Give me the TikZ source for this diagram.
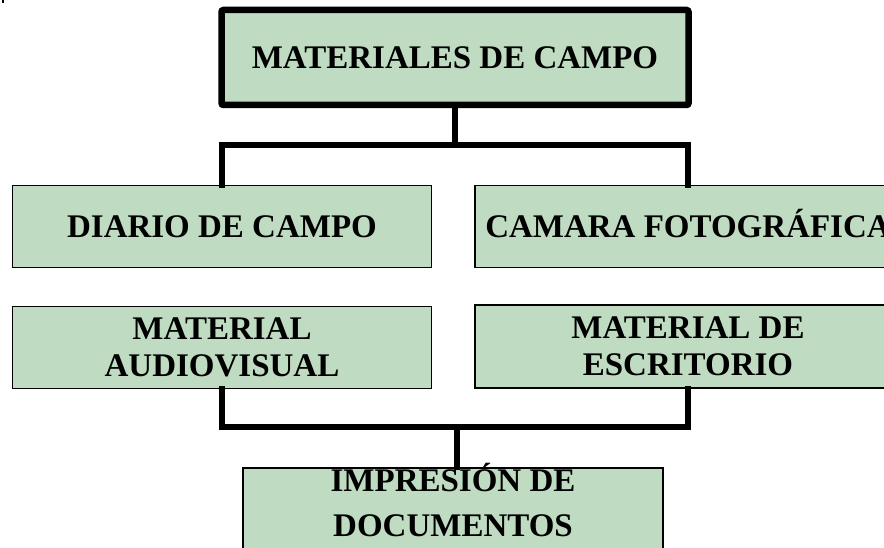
\documentclass[tikz,border=0pt]{standalone}
\usepackage{fontspec}
\setmainfont{Liberation Serif}
\definecolor{boxgreen}{RGB}{191,220,194}
\begin{document}
\begin{tikzpicture}[x=1pt,y=-1pt,
  every node/.style={font=\bfseries\fontsize{33}{37}\selectfont, inner sep=0pt, align=center},
  thinbox/.style={draw=black, line width=1.8pt, fill=boxgreen, minimum width=419pt, minimum height=82pt},
  topbox/.style={draw=black, line width=6.5pt, fill=boxgreen, rounded corners=2pt, minimum width=467pt, minimum height=95pt},
  conn/.style={draw=black, line width=6pt, line cap=rect, line join=miter},
  one/.style={text height=22pt, text depth=0pt}]
\clip (0,0) rectangle (884,548);
\fill[white] (0,0) rectangle (884,548);
\fill[black] (2,0.5) rectangle (4,3);
\coordinate (j1) at (457,145);
\coordinate (j2) at (457,427);
% boxes
\node[topbox, one] (top) at (455,57.5) {MATERIALES DE CAMPO};
\node[thinbox, one] (dia) at (222,226.5) {DIARIO DE CAMPO};
\node[thinbox, one, minimum width=426pt] (cam) at (688,226.5) {CAMARA FOTOGRÁFICA};
\node[thinbox] (aud) at (222,347.5) {MATERIAL\\AUDIOVISUAL};
\node[thinbox, minimum width=426pt, minimum height=83pt] (esc) at (688,346.5) {MATERIAL DE\\ESCRITORIO};
\node[thinbox, minimum width=420pt, minimum height=120pt, anchor=north] (imp) at (453,467) {};
\node[font=\bfseries\fontsize{33}{45}\selectfont] (impt) at (453,500.5) {IMPRESIÓN DE\\DOCUMENTOS};
% connectors
\draw[conn] (top.south) -- (top.south |- j1);
\draw[conn] (dia.north) |- (j1) -| (cam.north);
\draw[conn] (aud.south) |- (j2) -| (esc.south);
\draw[conn] (j2) -- (j2 |- imp.north);
\end{tikzpicture}
\end{document}
